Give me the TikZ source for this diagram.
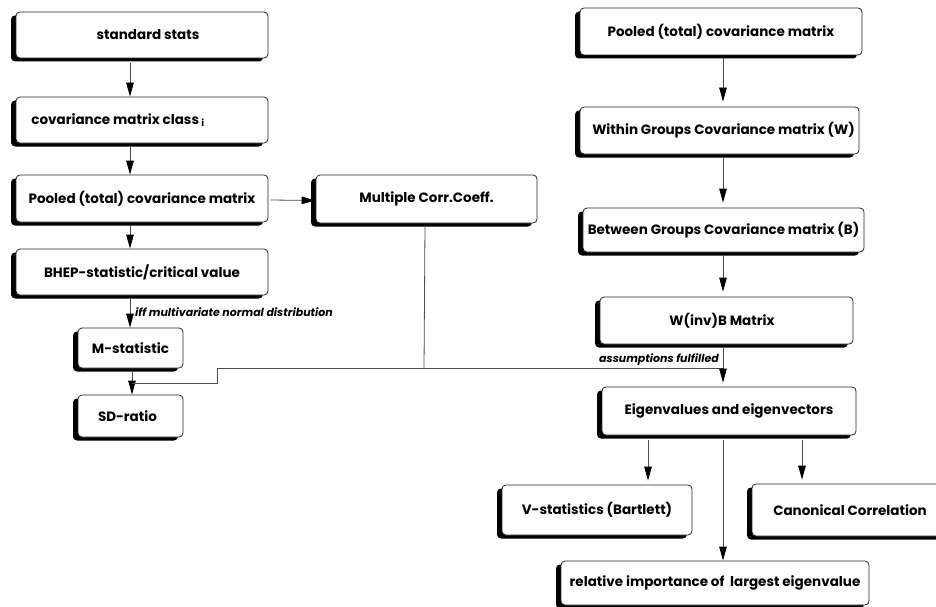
\documentclass[tikz,border=0pt]{standalone}
\usepackage{fontspec}
\setmainfont{Poppins}
\usetikzlibrary{arrows.meta,shadows}
\begin{document}
\begin{tikzpicture}[x=1pt,y=-1pt,
  box/.style={draw=black!85, line width=0.8pt, fill=white, rounded corners=4pt,
    inner sep=0pt, font=\fontsize{13.5}{15}\selectfont\bfseries,
    drop shadow={shadow xshift=-5pt, shadow yshift=-3.5pt, fill=black, opacity=1}},
  conn/.style={draw=black!70, line width=0.8pt},
  arr/.style={conn, -{Triangle[length=14pt,width=7.5pt,fill=black,color=black]}},
  lab/.style={font=\fontsize{11}{13}\selectfont\bfseries\itshape, inner sep=0pt}]
\useasboundingbox (0,0) rectangle (936,607);
% left column
\node[box, minimum width=252pt, minimum height=46pt] (std) at (142,35) {\hspace{12pt}standard stats};
\node[box, minimum width=252pt, minimum height=46pt] (cov) at (142,120) {covariance matrix class\,\textsubscript{i}\hspace{48pt}\null};
\node[box, minimum width=252pt, minimum height=47pt] (poolL) at (142,198.5) {Pooled (total) covariance matrix};
\node[box, minimum width=252pt, minimum height=46pt] (bhep) at (142,272) {BHEP-statistic/critical value};
\node[box, minimum width=105pt, minimum height=40pt] (mstat) at (130.5,348) {M-statistic};
\node[box, minimum width=105pt, minimum height=42pt] (sd) at (130.5,416) {SD-ratio\hspace{6pt}\null};
\node[box, minimum width=221pt, minimum height=48pt] (mcc) at (426.5,199) {Multiple Corr.Coeff.};
% right column
\node[box, minimum width=282pt, minimum height=47pt] (poolR) at (721,31.5) {Pooled (total) covariance matrix};
\node[box, minimum width=279pt, minimum height=47pt] (within) at (719.5,130.5) {\hspace{8pt}Within Groups Covariance matrix (W)};
\node[box, minimum width=281pt, minimum height=44pt] (between) at (723.5,230) {Between Groups Covariance matrix (B)};
\node[box, minimum width=253pt, minimum height=47pt] (winvb) at (726.5,320.5) {W(inv)B Matrix\hspace{9pt}\null};
\node[box, minimum width=254pt, minimum height=48pt] (eigen) at (729,411) {Eigenvalues and eigenvectors};
\node[box, minimum width=190pt, minimum height=50pt] (vstat) at (597,510) {V-statistics (Bartlett)};
\node[box, minimum width=196pt, minimum height=52pt] (canon) at (850,510) {Canonical Correlation};
\node[box, minimum width=308pt, minimum height=44pt] (rel) at (715,583) {relative importance of\ \ largest eigenvalue};
% helper coordinates
\coordinate (cL) at (130,0);
\coordinate (cR) at (723,0);
\coordinate (jL) at (217,368);
\coordinate (jR) at (723,368);
\coordinate (jS) at (132,383);
% left connectors
\draw[arr] (std.south -| cL) ++(0,5) -- (cov.north -| cL);
\draw[arr] (cov.south -| cL) ++(0,4) -- (poolL.north -| cL);
\draw[arr] (poolL.south -| cL) ++(0,4) -- (bhep.north -| cL);
\draw[arr] (bhep.south -| cL) ++(0,4) -- (mstat.north -| cL);
\node[lab, anchor=west] (iff) at (135,312) {iff multivariate normal distribution};
\draw[arr] (mstat.south -| jS) ++(0,4) -- (sd.north -| jS);
\draw[arr] (poolL.east) ++(2,1.5) -- (mcc.west |- 0,200.5);
% multiple corr connector
\draw[conn] (mcc.south) ++(-1.5,2) -- (424,368);
\draw[conn] (jR) -- (jL) -- (217,383) -- (jS);
% right connectors
\draw[arr] (poolR.south -| cR) ++(0,3) -- ([yshift=5pt]within.north -| cR);
\draw[arr] (within.south -| cR) ++(0,3) -- ([yshift=5pt]between.north -| cR);
\draw[arr] (between.south -| cR) ++(0,3) -- ([yshift=5pt]winvb.north -| cR);
\draw[arr] (winvb.south -| cR) ++(0,4) -- ([yshift=4pt]eigen.north -| cR);
\node[lab, anchor=south east] (assum) at (719,366) {assumptions fulfilled};
\draw[arr] (eigen.south -| 648,0) ++(0,5) -- ([yshift=4pt]vstat.north -| 648,0);
\draw[arr] (eigen.south -| 802,0) ++(0,5) -- ([yshift=4pt]canon.north -| 802,0);
\draw[arr] (eigen.south -| cR) ++(0,5) -- (rel.north -| cR);
\end{tikzpicture}
\end{document}
